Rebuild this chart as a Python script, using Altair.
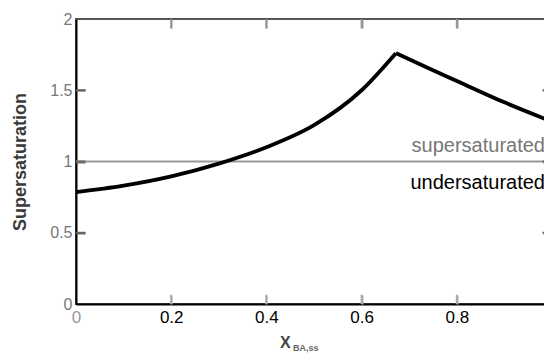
import altair as alt
import pandas as pd

# Curve values (rising branch, then falling branch)
rise_x = [0.0, 0.1, 0.2, 0.3, 0.4, 0.5, 0.6, 0.672]
rise_y = [0.785, 0.83, 0.895, 0.985, 1.10, 1.255, 1.50, 1.76]
fall_x = [0.672, 0.75, 0.8, 0.9, 1.0]
fall_y = [1.76, 1.64, 1.565, 1.415, 1.28]

x_tick_values = [0.2, 0.4, 0.6, 0.8]
y_tick_values = [0.5, 1.0, 1.5]
x_label_values = [0, 0.2, 0.4, 0.6, 0.8, 1]
y_label_values = [0, 0.5, 1, 1.5, 2]
threshold = [1.0]

W, H = 476, 285
FONT = "Liberation Sans"
XLEN, YLEN = 0.02, 0.065  # inward tick lengths in axis units

curve = pd.DataFrame({
    "x": rise_x + fall_x,
    "y": rise_y + fall_y,
    "seg": ["rise"] * len(rise_x) + ["fall"] * len(fall_x),
})
th = pd.DataFrame({"y": threshold})

xscale = alt.Scale(domain=[0, 1], nice=False, zero=False)
yscale = alt.Scale(domain=[0, 2], nice=False, zero=False)

base = alt.Chart(curve).mark_line(color="black", strokeWidth=3.8, interpolate="monotone").encode(
    x=alt.X("x:Q", scale=xscale, axis=alt.Axis(
        values=x_label_values, title=None, grid=False, ticks=False,
        domainColor="black", domainWidth=2,
        labelFont=FONT, labelFontSize=17, labelPadding=5,
        labelColor={"expr": "datum.value == 0 ? '#999' : 'black'"},
        labelExpr="datum.value == 0 ? '0' : datum.value == 1 ? '1' : format(datum.value, '.1f')",
        labelFlush=False, labelOverlap=False)),
    y=alt.Y("y:Q", scale=yscale, axis=alt.Axis(
        values=y_label_values, title="Supersaturation", grid=False, ticks=False,
        domainColor="black", domainWidth=2,
        labelFont=FONT, labelFontSize=16, labelColor="#777", labelPadding=4,
        labelExpr="format(datum.value, '')",
        labelFlush=False, labelOverlap=False,
        titleFont=FONT, titleFontSize=18, titleFontWeight="bold", titleColor="#3a3a3a",
        titleX=-56, titleY=H / 2, titleAngle=270, titleAlign="center", titleBaseline="middle")),
    detail="seg:N",
)

# inward ticks drawn by extra axes pulled into the plot with negative offsets
ghost = alt.Chart(curve).mark_point(opacity=0)
ticks_a = ghost.encode(
    x=alt.X("x:Q", scale=xscale, axis=alt.Axis(
        orient="top", offset=-H, values=x_tick_values, labels=False, domain=False, grid=False,
        ticks=True, tickSize=9, tickColor="#aaa", tickWidth=2, title=None)),
    y=alt.Y("y:Q", scale=yscale, axis=alt.Axis(
        orient="right", offset=-W, values=y_tick_values, labels=False, domain=False, grid=False,
        ticks=True, tickSize=9, tickColor="#666", tickWidth=2, title=None)),
)
ticks_b = ghost.encode(
    x=alt.X("x:Q", scale=xscale, axis=alt.Axis(
        orient="bottom", offset=-H, values=x_tick_values, labels=False, domain=False, grid=False,
        ticks=True, tickSize=9, tickColor="#999", tickWidth=2, title=None)),
    y=alt.Y("y:Q", scale=yscale, axis=alt.Axis(
        orient="left", offset=-W, values=y_tick_values, labels=False, domain=False, grid=False,
        ticks=True, tickSize=9, tickColor="#666", tickWidth=2, title=None)),
)

# the same inward ticks as short rules, one per tick value
tick_rules = []
for v in x_tick_values:
    tick_rules.append(alt.Chart(th).mark_rule(color="#aaa", strokeWidth=2).encode(
        x=alt.datum(v, scale=xscale, axis=None),
        y=alt.datum(0, scale=yscale, axis=None), y2=alt.datum(YLEN)))
    tick_rules.append(alt.Chart(th).mark_rule(color="#999", strokeWidth=2).encode(
        x=alt.datum(v, scale=xscale, axis=None),
        y=alt.datum(2, scale=yscale, axis=None), y2=alt.datum(2 - YLEN)))
for v in y_tick_values:
    tick_rules.append(alt.Chart(th).mark_rule(color="#666", strokeWidth=2).encode(
        y=alt.datum(v, scale=yscale, axis=None),
        x=alt.datum(0, scale=xscale, axis=None), x2=alt.datum(XLEN)))
    tick_rules.append(alt.Chart(th).mark_rule(color="#666", strokeWidth=2).encode(
        y=alt.datum(v, scale=yscale, axis=None),
        x=alt.datum(1, scale=xscale, axis=None), x2=alt.datum(1 - XLEN)))

hline = alt.Chart(th).mark_rule(color="#999", strokeWidth=1.8).encode(
    y=alt.Y("y:Q", scale=yscale, axis=None))

frame_top = alt.Chart(th).mark_rule(color="#555", strokeWidth=2).encode(
    y=alt.datum(2, scale=yscale, axis=None), x=alt.datum(0, scale=xscale, axis=None), x2=alt.datum(1))
frame_right = alt.Chart(th).mark_rule(color="#555", strokeWidth=2).encode(
    x=alt.datum(1, scale=xscale, axis=None), y=alt.datum(0, scale=yscale, axis=None), y2=alt.datum(2))

sup = alt.Chart(pd.DataFrame({"t": ["supersaturated"]})).mark_text(
    font=FONT, fontSize=20, color="#777", align="right", baseline="middle").encode(
    text="t:N", x=alt.value(W - 7), y=alt.value(127))
und = alt.Chart(pd.DataFrame({"t": ["undersaturated"]})).mark_text(
    font=FONT, fontSize=20, color="black", align="right", baseline="middle").encode(
    text="t:N", x=alt.value(W - 7), y=alt.value(164))

xtitle = alt.Chart(pd.DataFrame({"t": ["X"]})).mark_text(
    font=FONT, fontSize=16, fontWeight="bold", color="#444", align="left", baseline="middle").encode(
    text="t:N", x=alt.value(204), y=alt.value(324))
xsub = alt.Chart(pd.DataFrame({"t": ["BA,ss"]})).mark_text(
    font=FONT, fontSize=9, fontWeight="bold", color="#666", align="left", baseline="middle").encode(
    text="t:N", x=alt.value(217), y=alt.value(329))

chart = alt.layer(hline, frame_top, frame_right, *tick_rules, base, ticks_a, ticks_b,
                  sup, und, xtitle, xsub).resolve_axis(
    x="independent", y="independent"
).properties(
    width=W, height=H,
    autosize=alt.AutoSizeParams(type="none"),
    padding={"left": 68, "top": 11, "right": -8, "bottom": 49},
    background="white",
).configure_view(stroke="#555", strokeWidth=2)

chart.save("out.html", embed_options={"renderer": "svg", "actions": False})
